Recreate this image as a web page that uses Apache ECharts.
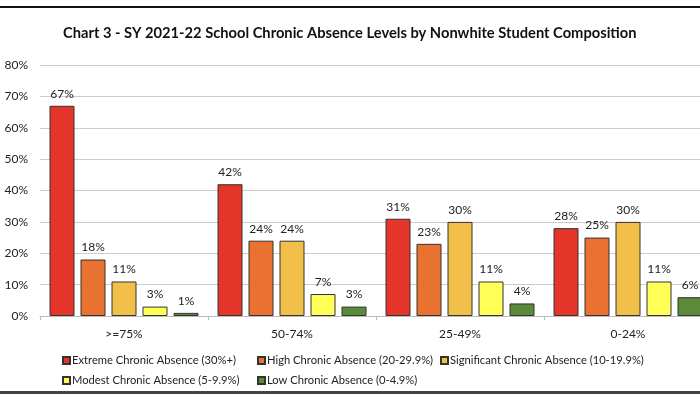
<!DOCTYPE html>
<html><head><meta charset="utf-8">
<script src="https://cdn.jsdelivr.net/npm/echarts@6/dist/echarts.min.js"></script>
<style>html,body{margin:0;padding:0;background:#fff;overflow:hidden;width:700px;height:400px}#c{width:712px;height:400px}</style>
</head><body><div id="c"></div>
<script>
const categories = ['>=75%', '50-74%', '25-49%', '0-24%'];
const seriesNames = ['Extreme Chronic Absence (30%+)', 'High Chronic Absence (20-29.9%)', 'Significant Chronic Absence (10-19.9%)', 'Modest Chronic Absence (5-9.9%)', 'Low Chronic Absence (0-4.9%)'];
const extreme = [67, 42, 31, 28];
const high = [18, 24, 23, 25];
const significant = [11, 24, 30, 30];
const modest = [3, 7, 11, 11];
const low = [1, 3, 4, 6];
const colors = ['#E5352A', '#EA7231', '#F2BF48', '#FFFF57', '#5B8A3B'];
const values = [extreme, high, significant, modest, low];
const font = 'Lato, "Open Sans", sans-serif';

const chart = echarts.init(document.getElementById('c'));
const legendPos = [[57, 350], [252, 350], [435, 350], [57, 370], [252, 370]];
chart.setOption({
  animation: false,
  title: { text: 'Chart 3 - SY 2021-22 School Chronic Absence Levels by Nonwhite Student Composition', left: 58, top: 21,
    textStyle: { fontFamily: font, fontSize: 14.7, fontWeight: 'bold', color: '#111' } },
  legend: seriesNames.map((n, i) => ({ data: [n], left: legendPos[i][0], top: legendPos[i][1], itemWidth: 7, itemHeight: 7, itemGap: 4,
    icon: 'rect', textStyle: { fontFamily: font, fontSize: 11.2, color: '#222', padding: [0,0,0,-3] } })),
  grid: { left: 40, right: 0, top: 65, bottom: 84 },
  xAxis: { type: 'category', data: categories,
    axisLine: { lineStyle: { color: '#bbb' } },
    axisTick: { show: true, length: 4, lineStyle: { color: '#bbb' } },
    axisLabel: { fontFamily: font, fontSize: 12, color: '#222', margin: 12 } },
  yAxis: { type: 'value', min: 0, max: 80, interval: 10,
    axisLabel: { formatter: '{value}%', fontFamily: font, fontSize: 12, color: '#222', margin: 12 },
    splitLine: { lineStyle: { color: '#ccc' } }, axisLine: { show: false }, axisTick: { show: false } },
  series: seriesNames.map((n, i) => ({
    name: n, type: 'bar', data: values[i], barWidth: 25, barGap: '24%',
    itemStyle: { color: colors[i], borderColor: '#333', borderWidth: 1 },
    label: { show: true, position: 'top', formatter: '{c}%', fontFamily: font, fontSize: 12, color: '#222', distance: 6 }
  })),
  graphic: [
    { type: 'rect', shape: { x: 0, y: 6, width: 712, height: 2 }, style: { fill: '#111' } },
    { type: 'rect', shape: { x: 0, y: 391, width: 712, height: 3 }, style: { fill: '#444' } }
  ]
});
</script></body></html>
